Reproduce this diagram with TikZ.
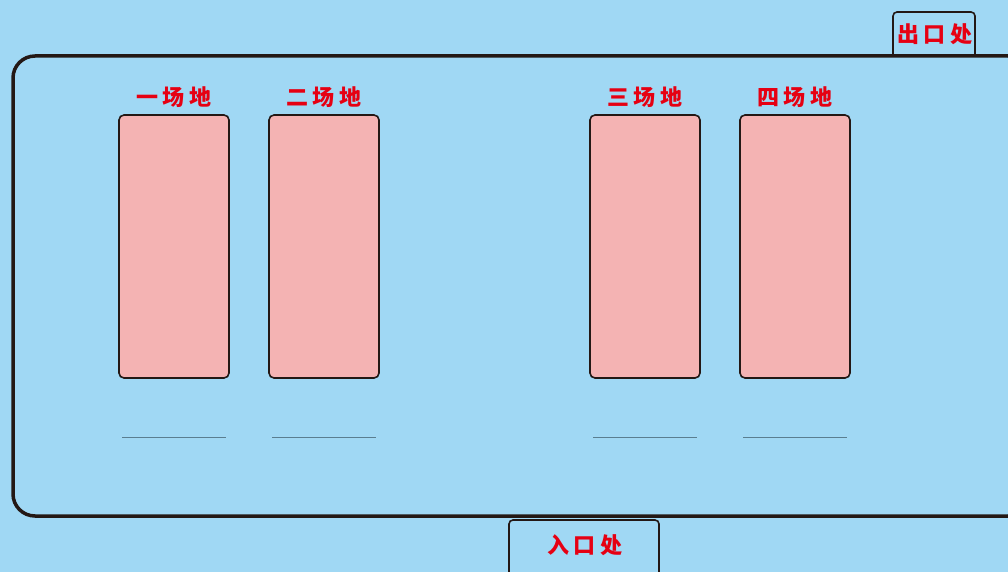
\documentclass[tikz,border=0pt]{standalone}
\usepackage{fontspec}
\newfontfamily\cjk{Noto Sans CJK SC}[BoldFont={Noto Sans CJK SC Black},LetterSpace=20]
\definecolor{bg}{HTML}{A0D8F4}
\definecolor{pinkf}{HTML}{F4B3B3}
\definecolor{lbl}{HTML}{E60012}
\definecolor{edge}{HTML}{231815}
\definecolor{uline}{HTML}{5A7E90}
\tikzset{
  field/.style={draw=edge, line width=1.6pt, fill=pinkf, rounded corners=5pt},
  lab/.style={text=lbl, font=\cjk\bfseries\fontsize{22}{22}\selectfont, inner sep=0pt},
  doorbox/.style={draw=edge, line width=1.6pt, rounded corners=4pt},
  hall/.style={draw=edge, line width=3.5pt, rounded corners=22pt},
  under/.style={draw=uline, line width=0.8pt}
}
\begin{document}
\begin{tikzpicture}[x=1pt,y=-1pt]
\fill[bg] (0,0) rectangle (1008,572);
\useasboundingbox (0,0) rectangle (1008,572);
% exit and entrance boxes
\draw[doorbox] (893,56) -- (893,12) -- (975,12) -- (975,56);
\draw[doorbox] (509,580) -- (509,520) -- (659,520) -- (659,580);
% hall
\draw[hall] (13,56) rectangle (1030,516);
\node[lab] (exit) at (935,34) {出口处};
\node[lab] (entry) at (585,545) {入口处};
% fields
\foreach \n/\x/\t in {a/119/一场地, b/269/二场地, c/590/三场地, d/740/四场地}{
  \draw[field] (\x,115) rectangle (\x+110,378);
  \node[lab] (l\n) at (\x+55,97) {\t};
  \draw[under] (\x+3,437) -- (\x+107,437);
}
\end{tikzpicture}
\end{document}
